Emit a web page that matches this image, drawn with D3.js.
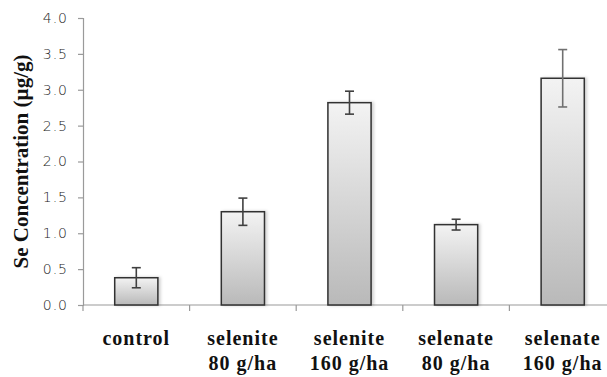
<!DOCTYPE html>
<html>
<head>
<meta charset="utf-8">
<script src="https://cdn.jsdelivr.net/npm/d3@7"></script>
<style>
  body { margin: 0; background: #fff; }
  svg { display: block; }
</style>
</head>
<body>
<svg id="chart"></svg>
<script>
const categories = ['control', 'selenite|80 g/ha', 'selenite|160 g/ha', 'selenate|80 g/ha', 'selenate|160 g/ha'];
const means = [0.38, 1.30, 2.82, 1.12, 3.16];
const errors = [0.14, 0.19, 0.16, 0.075, 0.40];
const yTicks = [0, 0.5, 1, 1.5, 2, 2.5, 3, 3.5, 4];

const width = 607, height = 377;
const margin = { top: 18, right: -9, bottom: 72, left: 83 };

const svg = d3.select('#chart').attr('width', width).attr('height', height);

const x = d3.scaleBand()
  .domain(categories)
  .range([margin.left, width - margin.right])
  .padding(0);

const y = d3.scaleLinear()
  .domain([0, 4])
  .range([height - margin.bottom, margin.top]);

const data = categories.map((c, i) => ({ cat: c, v: means[i], e: errors[i] }));

// bar gradient and soft shadow
const defs = svg.append('defs');
const grad = defs.append('linearGradient')
  .attr('id', 'barGrad').attr('x1', 0).attr('y1', 0).attr('x2', 0).attr('y2', 1);
grad.append('stop').attr('offset', '0%').attr('stop-color', '#f3f3f3');
grad.append('stop').attr('offset', '100%').attr('stop-color', '#b9b9b9');

const shadow = defs.append('filter').attr('id', 'shadow')
  .attr('x', '-20%').attr('y', '-20%').attr('width', '150%').attr('height', '140%');
shadow.append('feDropShadow')
  .attr('dx', 2).attr('dy', 0).attr('stdDeviation', 1.5)
  .attr('flood-color', '#000').attr('flood-opacity', 0.18);

// y axis
const yAxis = svg.append('g')
  .attr('transform', `translate(${margin.left},0)`)
  .call(d3.axisLeft(y).tickValues(yTicks).tickFormat(d3.format('.1f')).tickSize(5).tickPadding(10));
yAxis.select('.domain').attr('stroke', '#9a9a9a').attr('stroke-width', 1.2);
yAxis.selectAll('.tick line').attr('stroke', '#9a9a9a').attr('stroke-width', 1.2);
yAxis.selectAll('.tick text')
  .attr('fill', '#222')
  .style('font-family', '"DejaVu Sans", sans-serif')
  .style('font-weight', 200)
  .style('font-size', '14px')
  .style('letter-spacing', '1px');

// x axis line + ticks at category boundaries
const xAxis = svg.append('g');
xAxis.append('line')
  .attr('x1', margin.left).attr('x2', width)
  .attr('y1', y(0)).attr('y2', y(0))
  .attr('stroke', '#9a9a9a').attr('stroke-width', 1.2);
xAxis.selectAll('line.tk')
  .data(categories)
  .join('line')
  .attr('class', 'tk')
  .attr('x1', d => x(d)).attr('x2', d => x(d))
  .attr('y1', y(0)).attr('y2', y(0) + 6)
  .attr('stroke', '#9a9a9a').attr('stroke-width', 1.2);

// bars
const barW = x.bandwidth() * 0.405;
svg.append('g').selectAll('rect')
  .data(data)
  .join('rect')
  .attr('x', d => x(d.cat) + (x.bandwidth() - barW) / 2)
  .attr('y', d => y(d.v))
  .attr('width', barW)
  .attr('height', d => y(0) - y(d.v))
  .attr('fill', 'url(#barGrad)')
  .attr('stroke', '#303030')
  .attr('stroke-width', 1.5)
  .attr('filter', 'url(#shadow)');

// error bars
const eb = svg.append('g').selectAll('g')
  .data(data)
  .join('g')
  .attr('transform', d => `translate(${x(d.cat) + x.bandwidth() / 2},0)`)
  .attr('stroke', (d, i) => i === 4 ? '#707070' : '#404040')
  .attr('stroke-width', 1.6);
eb.append('line')
  .attr('y1', d => y(d.v + d.e)).attr('y2', d => y(d.v - d.e));
eb.append('line')
  .attr('x1', -4.5).attr('x2', 4.5)
  .attr('y1', d => y(d.v + d.e)).attr('y2', d => y(d.v + d.e));
eb.append('line')
  .attr('x1', -4.5).attr('x2', 4.5)
  .attr('y1', d => y(d.v - d.e)).attr('y2', d => y(d.v - d.e));

// category labels
svg.append('g').selectAll('text')
  .data(categories)
  .join('text')
  .attr('x', d => x(d) + x.bandwidth() / 2)
  .attr('y', y(0) + 40)
  .attr('text-anchor', 'middle')
  .style('font-family', '"Liberation Serif", "Times New Roman", serif')
  .style('font-weight', 'bold')
  .style('font-size', '20px')
  .style('letter-spacing', '1px')
  .attr('fill', '#111')
  .selectAll('tspan')
  .data(d => d.split('|'))
  .join('tspan')
  .attr('x', function () { return d3.select(this.parentNode).attr('x'); })
  .attr('dy', (d, i) => i === 0 ? 0 : 25)
  .text(d => d);

// y title
svg.append('text')
  .attr('transform', `translate(28,${(y(0) + y(4)) / 2}) rotate(-90)`)
  .attr('text-anchor', 'middle')
  .style('font-family', '"Liberation Serif", "Times New Roman", serif')
  .style('font-weight', 'bold')
  .style('font-size', '21px')
  .attr('fill', '#111')
  .text('Se Concentration (µg/g)');
</script>
</body>
</html>
